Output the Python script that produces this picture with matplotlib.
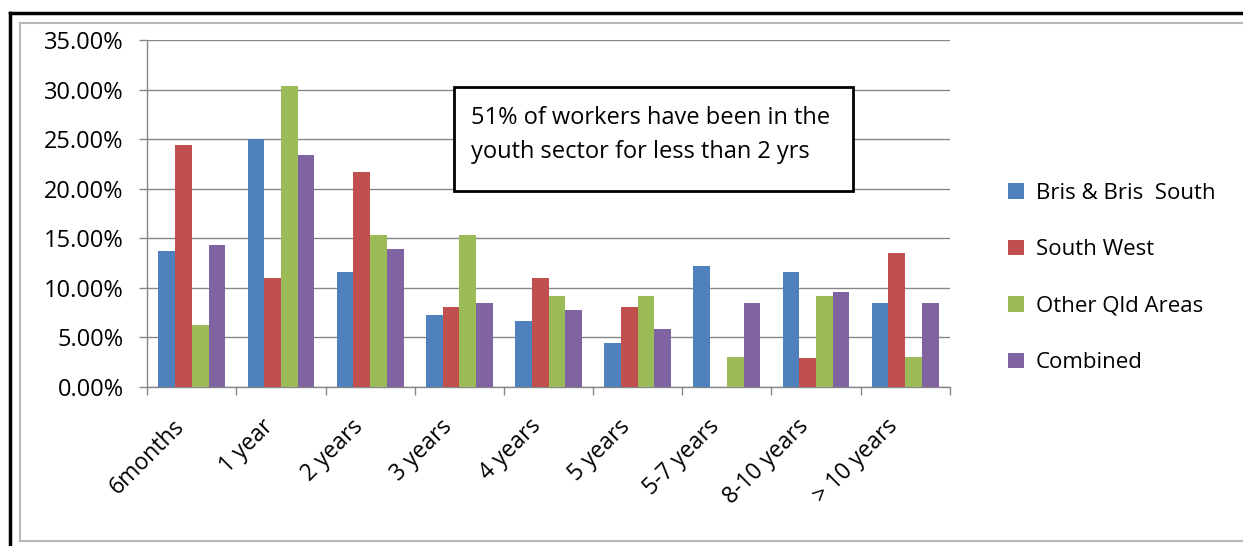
import numpy as np
import matplotlib
matplotlib.use("Agg")
import matplotlib.pyplot as plt
from matplotlib.patches import Rectangle
from matplotlib.lines import Line2D
from matplotlib.ticker import FuncFormatter, MultipleLocator

plt.rcParams['font.family'] = ['Open Sans', 'DejaVu Sans']

categories = ["6months", "1 year", "2 years", "3 years", "4 years",
              "5 years", "5-7 years", "8-10 years", "> 10 years"]
bris = [13.7, 25.0, 11.6, 7.2, 6.6, 4.4, 12.2, 11.6, 8.5]
south_west = [24.4, 11.0, 21.7, 8.1, 11.0, 8.1, 0.0, 2.9, 13.5]
other_qld = [6.2, 30.4, 15.3, 15.3, 9.2, 9.2, 3.0, 9.2, 3.0]
combined = [14.3, 23.4, 13.9, 8.5, 7.7, 5.8, 8.5, 9.6, 8.5]

series_names = ["Bris & Bris  South", "South West", "Other Qld Areas", "Combined"]
series_values = [bris, south_west, other_qld, combined]
series_colors = ["#4F81BD", "#C0504D", "#9BBB59", "#8064A2"]

note = "51% of workers have been in the\nyouth sector for less than 2 yrs"

W, H = 1243, 546
fig = plt.figure(figsize=(W / 100, H / 100), dpi=100)


def fig_line(xs, ys, **kw):
    fig.add_artist(Line2D([v / W for v in xs], [1 - v / H for v in ys],
                          transform=fig.transFigure, **kw))


# outer frame: black line on top and left, grey chart-area frame inside
fig_line([10, W], [13, 13], color="black", lw=2.5)
fig_line([10, 10], [13, H], color="black", lw=2.5)
fig_line([20, W], [23, 23], color="#B8B8B8", lw=1.5)
fig_line([20, 20], [23, 541], color="#B8B8B8", lw=1.5)
fig_line([20, W], [541, 541], color="#B8B8B8", lw=1.5)

left, right = 147.3 / W, 949.8 / W
bottom, top = (H - 386.7) / H, (H - 40.3) / H
ax = fig.add_axes([left, bottom, right - left, top - bottom])

n = len(categories)
x = np.arange(n)
group_w = 0.75
bar_w = group_w / len(series_values)
for i, (vals, col, name) in enumerate(zip(series_values, series_colors, series_names)):
    offs = -group_w / 2 + bar_w * (i + 0.5)
    ax.bar(x + offs, vals, width=bar_w, color=col, label=name, zorder=3)

ax.set_xlim(-0.5, n - 0.5)
ax.set_ylim(0, 35)
ax.yaxis.set_major_locator(MultipleLocator(5))
ax.yaxis.set_major_formatter(FuncFormatter(lambda v, p: f"{v:.2f}%"))
ax.grid(axis="y", color="#878787", lw=1.0, zorder=0)
ax.set_axisbelow(True)

for s in ["top", "right"]:
    ax.spines[s].set_visible(False)
for s in ["left", "bottom"]:
    ax.spines[s].set_color("#878787")
    ax.spines[s].set_linewidth(1.0)

ax.tick_params(axis="y", length=6, width=1, color="#878787", labelsize=17, pad=11)
# category separators on the x axis
ax.set_xticks(np.arange(n + 1) - 0.5)
ax.set_xticklabels([])
ax.tick_params(axis="x", length=6, width=1, color="#878787")
for xi, lab in zip(x, categories):
    ax.annotate(lab, xy=(xi, 0), xycoords="data", xytext=(-14, -20),
                textcoords="offset points", rotation=45, rotation_mode="anchor",
                ha="right", va="top", fontsize=16.5, annotation_clip=False)

# note box
fig.add_artist(Rectangle((454 / W, 1 - 191 / H), (853 - 454) / W, (191 - 87) / H,
                         transform=fig.transFigure, facecolor="white",
                         edgecolor="black", lw=2, zorder=4))
fig.text(471 / W, 1 - 135 / H, note, fontsize=17, va="center", ha="left",
         linespacing=1.5, zorder=6)

fig.legend(loc="center left", bbox_to_anchor=(988 / W, 1 - 278 / H),
           frameon=False, fontsize=16, handlelength=0.7, handleheight=0.7,
           handletextpad=0.55, labelspacing=1.6)

fig.savefig("out.png", dpi=100)
